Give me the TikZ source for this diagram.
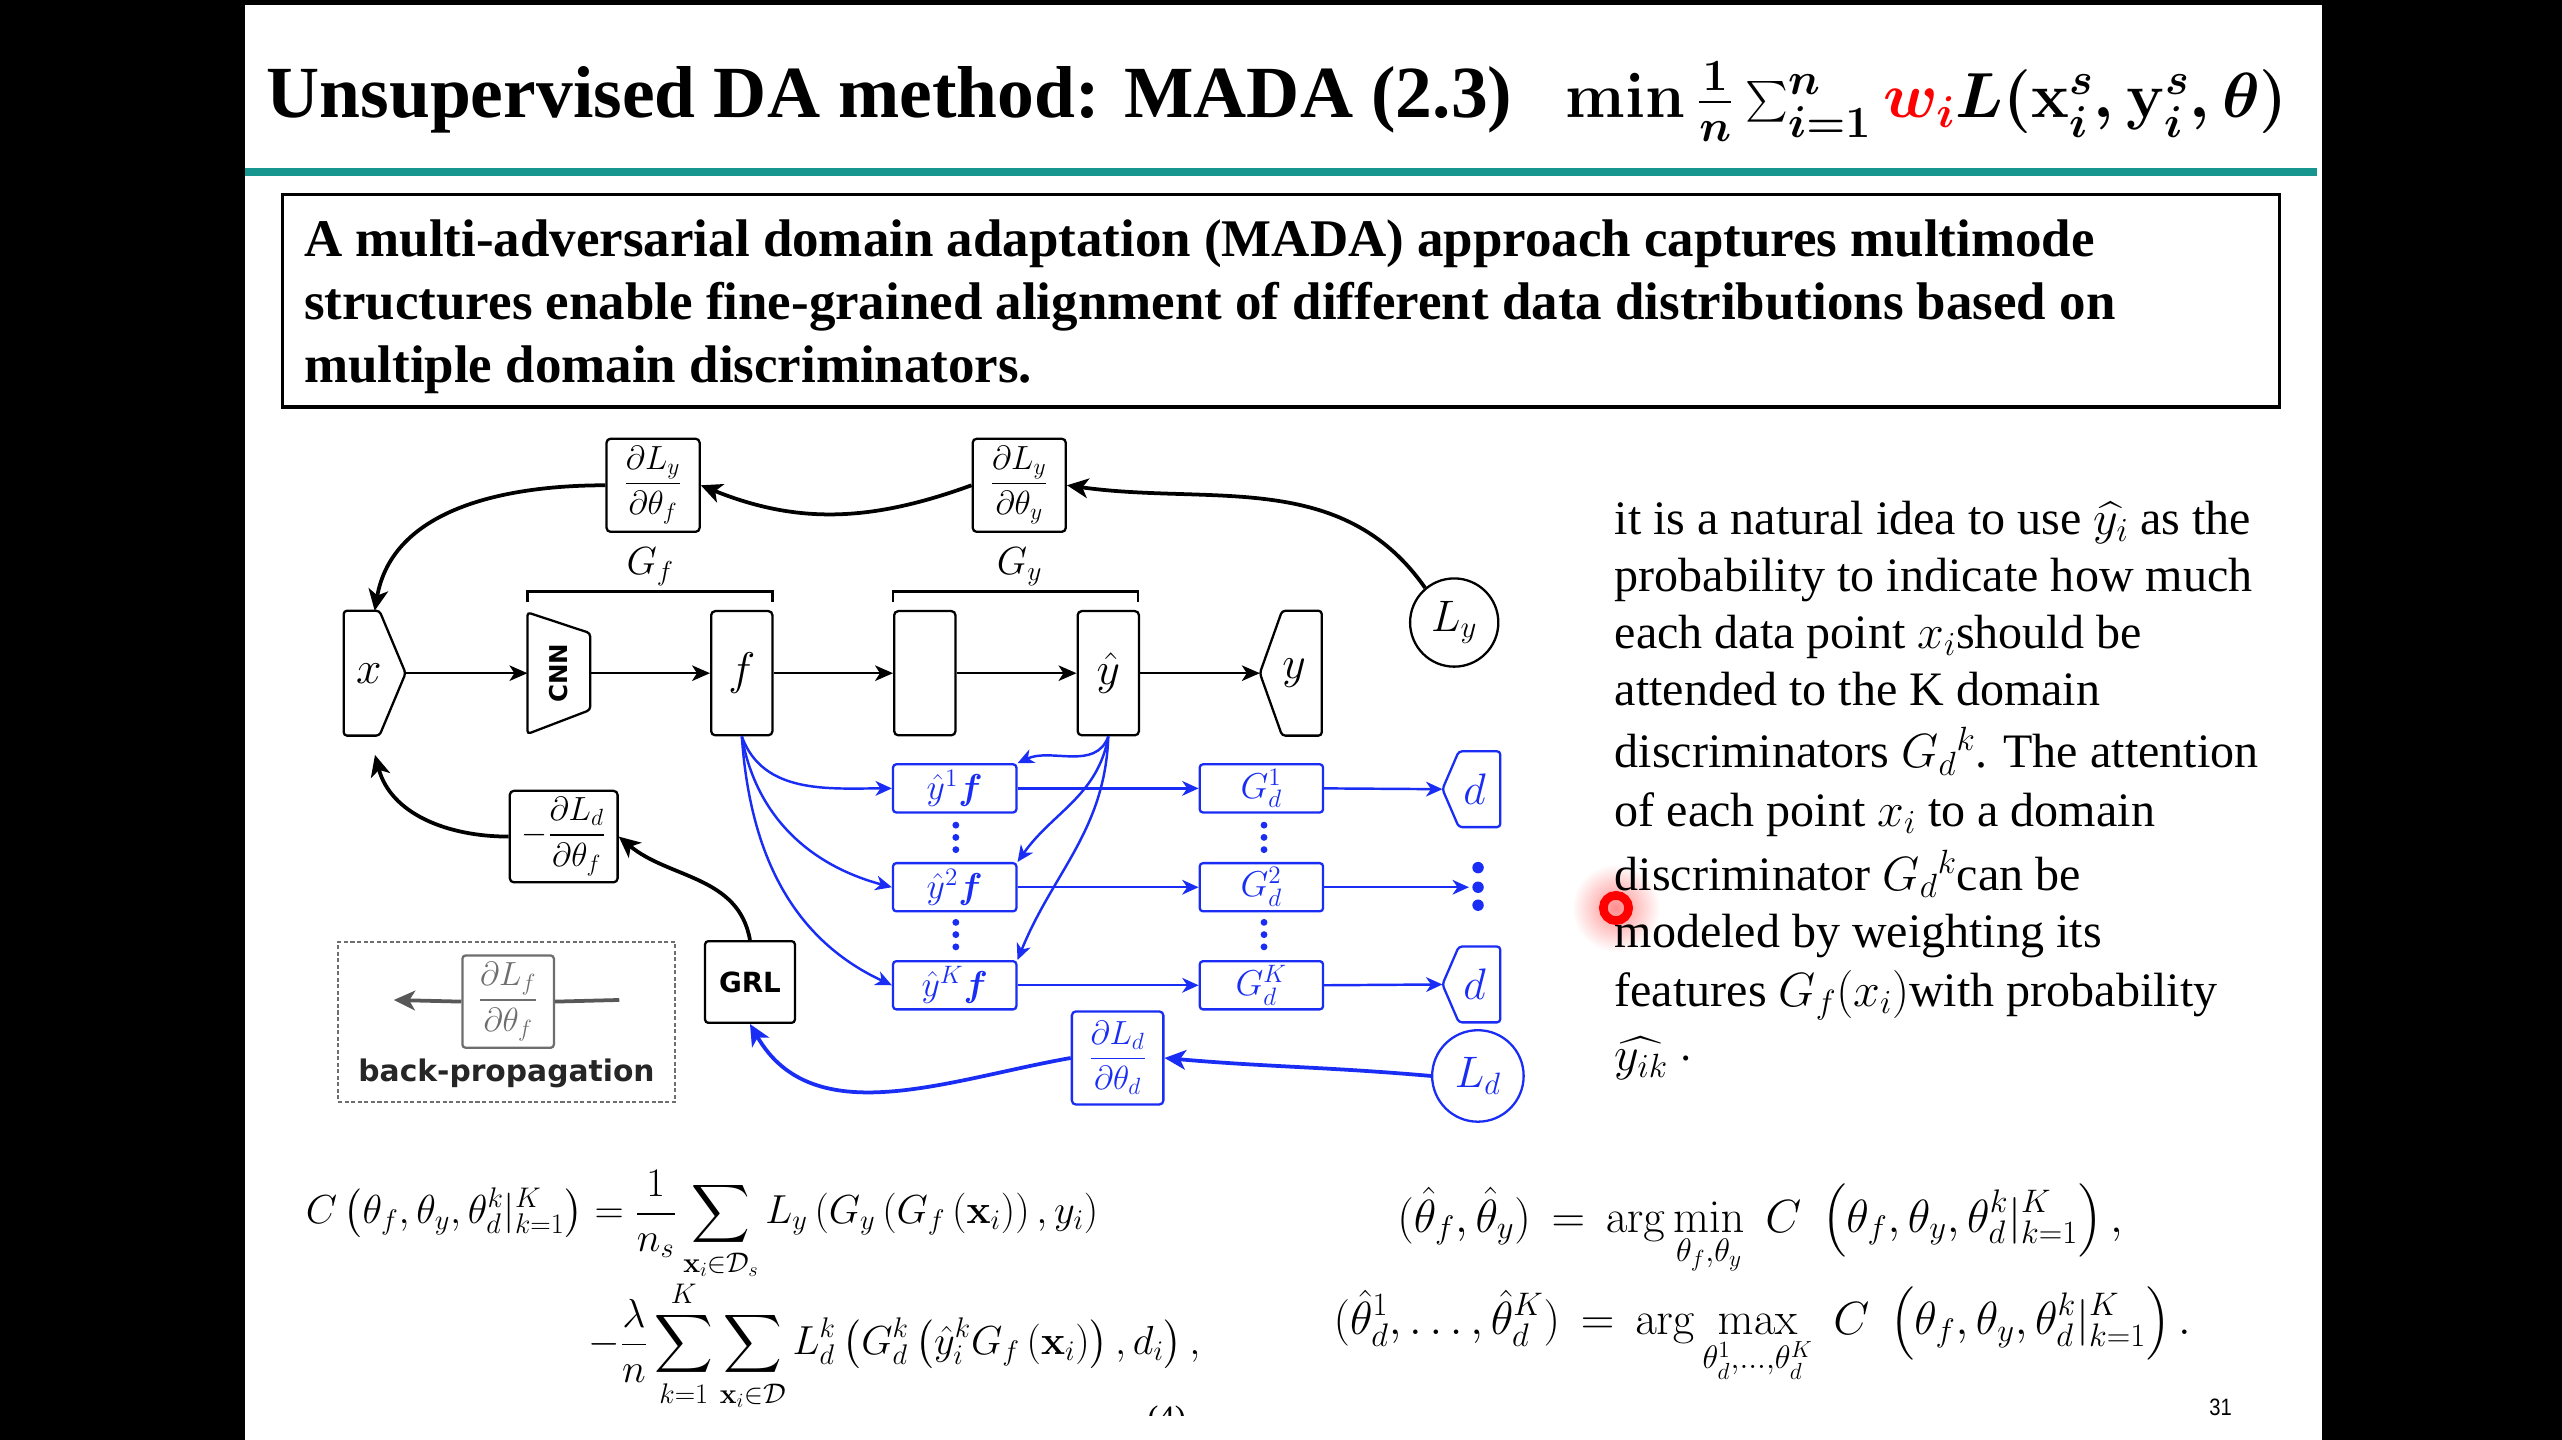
\RequirePackage{fix-cm}
\documentclass[tikz,border=0pt]{standalone}
\usepackage{amsmath}
\usepackage{bm}
\usepackage[no-math]{fontspec}
\setmainfont{Liberation Serif}
\newfontfamily\djsans{DejaVu Sans}
\newfontfamily\lsans{Liberation Sans}
\usetikzlibrary{arrows.meta,calc}
\definecolor{mblue}{RGB}{25,45,245}
\definecolor{tealbar}{RGB}{22,150,143}
\definecolor{bpgray}{RGB}{110,110,110}
\newcommand{\objtext}{$\min\frac{1}{n}\sum_{i=1}^{n}\textcolor{red}{w_i}L(\mathbf{x}_i^s,\mathbf{y}_i^s,\theta)$}
\begin{document}
\begin{tikzpicture}[x=1pt,y=-1pt,
  flow/.style={line width=1.4pt,-{Stealth[length=11pt,width=9.5pt,inset=3pt]}},
  back/.style={line width=2.3pt,-{Stealth[length=13pt,width=12pt,inset=3.5pt]}},
  bflow/.style={mblue,line width=1.5pt,-{Stealth[length=10pt,width=9pt,inset=3pt]}},
  bback/.style={mblue,line width=2.3pt,-{Stealth[length=13pt,width=12pt,inset=3.5pt]}},
  outline/.style={line width=1.4pt,rounded corners=2pt},
  layer/.style={draw,line width=1.4pt,rounded corners=2.5pt,inner sep=0pt,
    minimum width=37.5pt,minimum height=76pt,font=\fontsize{28}{30}\selectfont},
  io/.style={inner sep=0pt,minimum width=37.5pt,minimum height=76pt,font=\fontsize{28}{30}\selectfont},
  grad/.style={draw,line width=1.4pt,rounded corners=2.5pt,inner sep=0pt,
    minimum width=57pt,minimum height=57pt,font=\fontsize{20.5}{24}\selectfont},
  loss/.style={draw,line width=1.4pt,circle,inner sep=0pt,font=\fontsize{27}{30}\selectfont},
  bbox/.style={draw=mblue,text=mblue,line width=1.4pt,rounded corners=2pt,inner sep=0pt,
    minimum width=75.5pt,minimum height=29.5pt,font=\fontsize{22}{24}\selectfont},
  dnode/.style={text=mblue,inner sep=0pt,minimum width=35pt,minimum height=46pt,
    font=\fontsize{27}{30}\selectfont},
  bdot/.style={fill=mblue,circle,inner sep=0pt,minimum size=7pt},
  rline/.style={font=\fontsize{29.4}{32}\selectfont,anchor=base west,inner sep=0pt}
]
\useasboundingbox (0,0) rectangle (1568,881);
% slide on black screen
\fill[black] (0,0) rectangle (1568,881);
\fill[white] (150,3) rectangle (1421,881);

% heading
\node[anchor=base west,inner sep=0pt,font=\fontsize{45}{54}\selectfont\bfseries] (title) at (163,72) {Unsupervised DA method: MADA (2.3)};
\node[anchor=base west,inner sep=0pt,font=\fontsize{39}{47}\selectfont\boldmath] (obj) at (958,72) {\objtext};
\fill[tealbar] (150,103) rectangle (1418,107.5);

% summary box
\draw[line width=2.2pt] (173,119) rectangle (1395,249);
\begin{scope}[every node/.style={anchor=base west,inner sep=0pt,font=\fontsize{32.4}{38}\selectfont\bfseries}]
\node (s1) at (186,157) {A multi-adversarial domain adaptation (MADA) approach captures multimode};
\node (s2) at (186,195.5) {structures enable fine-grained alignment of different data distributions based on};
\node (s3) at (186,234) {multiple domain discriminators.};
\end{scope}

% ---------- network diagram ----------
% forward path
\node[io] (x) at (229.3,412) {$x$\hspace*{7pt}};
\draw[outline] (x.north west) -- ($(x.north east)+(-16,0)$) -- (x.east) -- ($(x.south east)+(-16,0)$) -- (x.south west) -- cycle;
\node[inner sep=0pt,minimum width=38pt,minimum height=74pt] (cnn) at (342,412) {\rotatebox{90}{\fontsize{15}{18}\djsans\bfseries CNN}};
\draw[outline] (cnn.north west) -- ($(cnn.east)+(0,-24.5)$) -- ($(cnn.east)+(0,22.5)$) -- (cnn.south west) -- cycle;
\node[layer] (f) at (454,412) {$f$};
\node[layer] (h) at (566,412) {};
\node[layer] (yhat) at (678.3,412) {$\hat{y}$};
\node[io] (y) at (790,412) {\hspace*{4pt}$y$};
\draw[outline] (y.west) -- ($(y.north west)+(13.6,0)$) -- (y.north east) -- (y.south east) -- ($(y.south west)+(13.6,0)$) -- cycle;
\node[loss,minimum size=54pt] (Ly) at (890,381) {$L_y$};

\draw[flow] (x.east) -- (cnn.west);
\draw[flow] (cnn.east) -- (f.west);
\draw[flow] (f.east) -- (h.west);
\draw[flow] (h.east) -- (yhat.west);
\draw[flow] (yhat.east) -- (y.west);

% brackets over the two sub-networks
\draw[line width=1.4pt] (322.8,368.5) -- (322.8,362) -- (472.8,362) -- (472.8,368.5);
\draw[line width=1.4pt] (546.6,368.5) -- (546.6,362) -- (696.5,362) -- (696.5,368.5);
\node[font=\fontsize{24}{26}\selectfont] (Gf) at (398,347) {$G_f$};
\node[font=\fontsize{24}{26}\selectfont] (Gy) at (624,347) {$G_y$};

% label-loss gradients
\node[grad] (dLytf) at (399.7,297) {$\dfrac{\partial L_y}{\partial \theta_f}$};
\node[grad] (dLyty) at (623.8,297) {$\dfrac{\partial L_y}{\partial \theta_y}$};
\draw[back] (Ly.130) to[out=125,in=-8] (dLyty.east);
\draw[back] (dLyty.west) to[out=200,in=-22] (dLytf.east);
\draw[back] (dLytf.west) to[out=180,in=80] (x.north);

% gradient reversal
\node[grad,minimum width=66pt,minimum height=56pt] (dLdtf) at (345,512) {$-\dfrac{\partial L_d}{\partial \theta_f}$};
\node[draw,line width=1.4pt,rounded corners=2pt,minimum width=55pt,minimum height=50pt,inner sep=0pt,font=\fontsize{17}{20}\djsans\bfseries] (GRL) at (459,601) {GRL};
\coordinate (xin) at (229.5,462);
\draw[back] (dLdtf.west) to[out=180,in=-75] (xin);
\draw[back] (GRL.north) to[out=100,in=-40] (dLdtf.east);

% legend
\node[draw=bpgray,dash pattern=on 2.5pt off 1.5pt,line width=1.1pt,minimum width=206pt,minimum height=98pt,inner sep=0pt] (legend) at (310,625.4) {};
\node[draw=bpgray,text=bpgray,line width=1.4pt,rounded corners=2pt,inner sep=0pt,minimum width=56pt,minimum height=56.5pt,font=\fontsize{20.5}{24}\selectfont] (dLftf) at (311,613) {$\dfrac{\partial L_f}{\partial \theta_f}$};
\coordinate (bpr) at (379,612);
\coordinate (bpl) at (241,612);
\draw[bpgray!80!black,line width=2.3pt] (dLftf.east) -- (bpr);
\draw[bpgray!80!black,line width=2.3pt,-{Stealth[length=13pt,width=12pt,inset=3.5pt]}] (dLftf.west) -- (bpl);
\node[anchor=base,inner sep=0pt,font=\fontsize{18.2}{20}\djsans\bfseries,text=black!85] (bptext) at (310,662) {back-propagation};

% multi-adversarial branch
\node[bbox] (yf1) at (584.3,482.5) {$\hat{y}^{1}\bm{f}$};
\node[bbox] (yf2) at (584.3,543) {$\hat{y}^{2}\bm{f}$};
\node[bbox] (yfK) at (584.3,603) {$\hat{y}^{K}\bm{f}$};
\node[bbox] (Gd1) at (772,482.5) {$G_d^1$};
\node[bbox] (Gd2) at (772,543) {$G_d^2$};
\node[bbox] (GdK) at (772,603) {$G_d^K$};
\node[dnode] (d1) at (900.5,483) {\hspace*{4pt}$d$};
\node[dnode] (dK) at (900.5,602.5) {\hspace*{4pt}$d$};
\foreach \dn in {d1,dK}
  \draw[outline,mblue] (\dn.west) -- ($(\dn.north west)+(10,0)$) -- (\dn.north east) -- (\dn.south east) -- ($(\dn.south west)+(10,0)$) -- cycle;
\node[bdot] (m1) at (904.6,531) {};
\node[bdot] (m2) at (904.6,543) {};
\node[bdot] (m3) at (904.6,554) {};
\coordinate (din) at (899,543);

\foreach \cx in {585,773.6} {
  \foreach \cy in {505,512.5,520,564.5,572,579.5}
    \fill[mblue] (\cx,\cy) circle (2.1pt);
}

\draw[bflow] (f.south) to[out=-70,in=180] (yf1.west);
\draw[bflow] (f.south) to[out=-80,in=165] (yf2.west);
\draw[bflow] (f.south) to[out=-86,in=155] (yfK.west);
\draw[bflow] (yhat.south) to[out=-110,in=25] (yf1.north east);
\draw[bflow] (yhat.south) to[out=-100,in=55] (yf2.north east);
\draw[bflow] (yhat.south) to[out=-92,in=68] (yfK.north east);
\draw[bflow] (yf1.east) -- (Gd1.west);
\draw[bflow] (yf2.east) -- (Gd2.west);
\draw[bflow] (yfK.east) -- (GdK.west);
\draw[bflow] (Gd1.east) -- (d1.west);
\draw[bflow] (Gd2.east) -- (din);
\draw[bflow] (GdK.east) -- (dK.west);

\node[grad,draw=mblue,text=mblue,minimum width=56pt] (dLdtd) at (684,647.5) {$\dfrac{\partial L_d}{\partial \theta_d}$};
\node[loss,draw=mblue,text=mblue,minimum size=56pt] (Ld) at (904.5,658.5) {$L_d$};
\draw[bback] (Ld.west) to[out=175,in=-5] (dLdtd.east);
\draw[bback] (dLdtd.west) to[out=190,in=-60] (GRL.south);

% ---------- explanation ----------
\shade[inner color=red!45,outer color=white] (989,555.7) circle (27pt);
\node[rline] (t1) at (988,327) {it is a natural idea to use $\widehat{y_i}$ as the};
\node[rline] (t2) at (988,362) {probability to indicate how much};
\node[rline] (t3) at (988,397) {each data point $x_i$should be};
\node[rline] (t4) at (988,432) {attended to the K domain};
\node[rline] (t5) at (988,470) {discriminators $G_d{}^k$. The attention};
\node[rline] (t6) at (988,506) {of each point $x_i$ to a domain};
\node[rline] (t7) at (988,545) {discriminator $G_d{}^k$can be};
\node[rline] (t8) at (988,580) {modeled by weighting its};
\node[rline] (t9) at (988,616) {features $G_f(x_i)$with probability};
\node[rline] (t10) at (988,655) {$\widehat{y_{ik}}$ $\cdot$};
\draw[red,line width=5.3pt] (989,555.7) circle (7.75pt);

% ---------- objective ----------
\begin{scope}[every node/.style={anchor=base west,inner sep=0pt,font=\fontsize{24.8}{28}\selectfont}]
\node (e1) at (187,749) {$\displaystyle C\left(\theta_f,\theta_y,\theta_d^k|_{k=1}^K\right)=\frac{1}{n_s}\sum_{\mathbf{x}_i\in\mathcal{D}_s}L_y\left(G_y\left(G_f\left(\mathbf{x}_i\right)\right),y_i\right)$};
\node (e2) at (360,829) {$\displaystyle -\frac{\lambda}{n}\sum_{k=1}^{K}\sum_{\mathbf{x}_i\in\mathcal{D}}L_d^k\left(G_d^k\left(\hat{y}_i^kG_f\left(\mathbf{x}_i\right)\right),d_i\right),$};
\end{scope}
\begin{scope}[every node/.style={anchor=base west,inner sep=0pt,font=\fontsize{28.5}{32}\selectfont}]
\node (e3) at (855,754) {$\displaystyle (\hat{\theta}_f,\hat{\theta}_y)\,=\,\arg\min_{\theta_f,\theta_y}\;C\;\left(\theta_f,\theta_y,\theta_d^k|_{k=1}^K\right),$};
\node (e4) at (816,817) {$\displaystyle (\hat{\theta}_d^1,\ldots,\hat{\theta}_d^K)\,=\,\arg\max_{\theta_d^1,\ldots,\theta_d^K}\;C\;\left(\theta_f,\theta_y,\theta_d^k|_{k=1}^K\right).$};
\end{scope}
\begin{scope}
\clip (690,850) rectangle (740,866);
\node[anchor=base,inner sep=0pt,font=\fontsize{20}{24}\selectfont] (eqn) at (714,874) {(4)};
\end{scope}
\node[anchor=base,inner sep=0pt,font=\fontsize{14.5}{16}\lsans,xscale=0.85] (page) at (1359,866) {31};
\end{tikzpicture}
\end{document}
